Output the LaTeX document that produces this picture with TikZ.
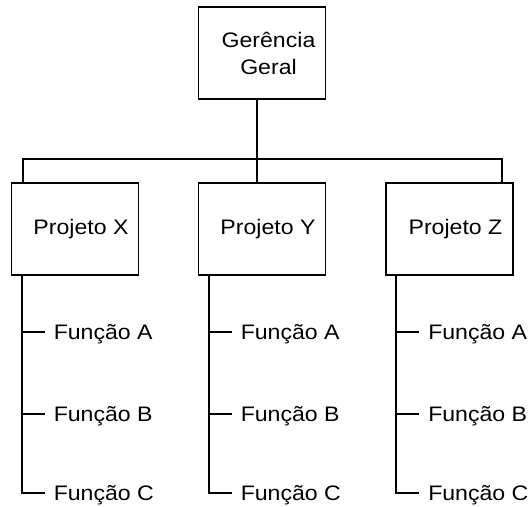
\documentclass[tikz,border=0pt]{standalone}
\usepackage{fontspec}
\setmainfont[FakeStretch=1.1]{Liberation Sans}
\begin{document}
\begin{tikzpicture}[x=1pt,y=-1pt,
  box/.style={draw, line width=1.9pt, minimum width=127pt, minimum height=92pt,
    inner sep=0pt, font=\fontsize{21}{26}\selectfont},
  link/.style={line width=1.9pt},
  func/.style={anchor=west, inner sep=0pt, text height=15pt, text depth=0pt,
    font=\fontsize{21}{26}\selectfont}]
\useasboundingbox (0,0) rectangle (530,506);

% top of the hierarchy
\node[box, align=center] (ger) at (262,53) {\hspace*{13pt}Gerência\\[1pt]\hspace*{13pt}Geral};

% project boxes
\node[box] (px) at (75,229)    {\hspace*{12pt}Projeto X};
\node[box] (py) at (262,229)   {\hspace*{12pt}Projeto Y};
\node[box] (pz) at (449.5,229) {\hspace*{12pt}Projeto Z};

% horizontal distribution bar
\coordinate (hub) at (257,159);
\coordinate (bx) at (23,159);
\coordinate (bz) at (502,159);
\draw[link] (hub |- ger.south) -- (hub);
\draw[link] (bx |- px.north) -- (bx) -- (bz) -- (bz |- pz.north);
\draw[link] (hub) -- (hub |- py.north);

% functions under each project
\foreach \p/\q in {px/x, py/y, pz/z} {
  \coordinate (\q s) at ([xshift=11pt]\p.south west);
  \path (\q s) ++(32,56) node[func] (\q fa) {Função A};
  \path (\q s) ++(32,138) node[func] (\q fb) {Função B};
  \path (\q s) ++(32,217) node[func] (\q fc) {Função C};
  \draw[link] (\q s) -- (\q s |- \q fc.west) -- ([xshift=-9pt]\q fc.west);
  \draw[link] (\q s |- \q fa.west) -- ([xshift=-9pt]\q fa.west);
  \draw[link] (\q s |- \q fb.west) -- ([xshift=-9pt]\q fb.west);
}
\end{tikzpicture}
\end{document}
